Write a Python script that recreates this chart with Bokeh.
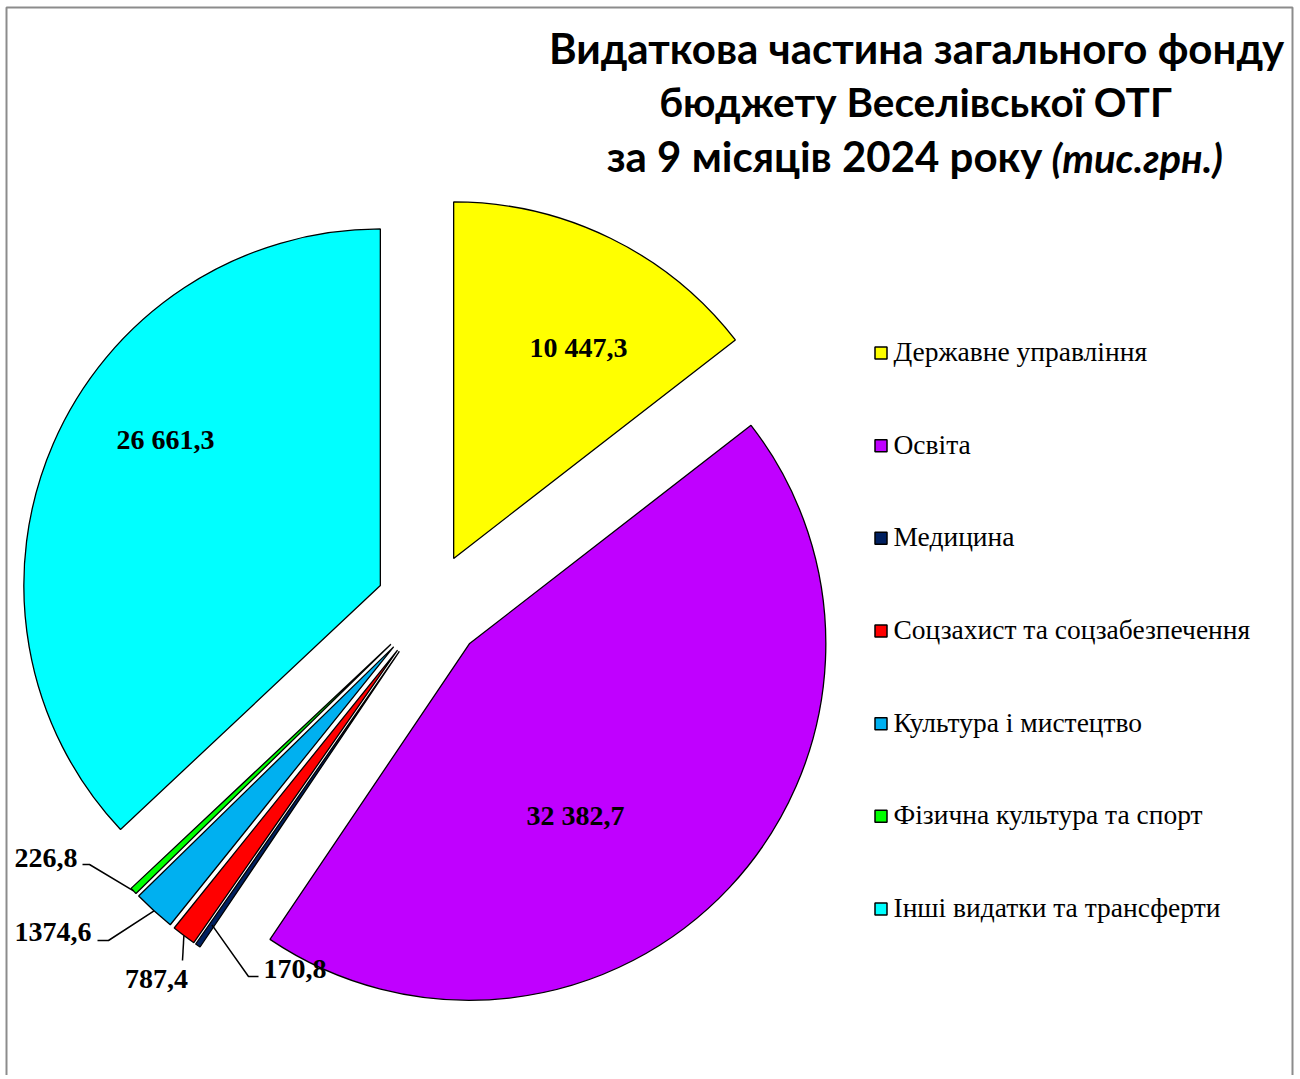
import math
from bokeh.plotting import figure
from bokeh.models import Range1d
from bokeh.embed import file_html
from bokeh.resources import INLINE
from bokeh.core.properties import value

# ---------------- data ----------------
categories = [
    "Державне управління",
    "Освіта",
    "Медицина",
    "Соцзахист та соцзабезпечення",
    "Культура і мистецтво",
    "Фізична культура та спорт",
    "Інші видатки та трансферти",
]
values = [10447.3, 32382.7, 170.8, 787.4, 1374.6, 226.8, 26661.3]
value_labels = ["10 447,3", "32 382,7", "170,8", "787,4", "1374,6", "226,8", "26 661,3"]
colors = ["#FFFF00", "#C000FF", "#002060", "#FF0000", "#00B0F0", "#00FF00", "#00FFFF"]
title_lines = ["Видаткова частина загального фонду", "бюджету Веселівської ОТГ", "за 9 місяців 2024 року"]
title_unit = "(тис.грн.)"

# ---------------- layout / style ----------------
W, H = 1296, 1075
def fy(sy):
    # screen y (page pixels, figure at top-left) -> data y
    return H - sy

CX, CY = 429.4, 606.4      # pie centre (page px)
R = 356.5                  # radius
EXPLODE = 54.0             # explosion distance
SERIF = value("Liberation Serif")

p = figure(width=W, height=H, output_backend="svg", toolbar_location=None,
           x_range=Range1d(0, W), y_range=Range1d(0, H),
           x_axis_type=None, y_axis_type=None, min_border=0)
p.grid.visible = False
p.outline_line_color = None
p.background_fill_color = "white"
p.border_fill_color = "white"

# chart frame
p.quad(left=6, right=1292, top=fy(7), bottom=fy(1120), fill_alpha=0,
       line_color="#8C8C8C", line_width=2)

total = sum(values)
cum = 0.0
geo = []
for v, c in zip(values, colors):
    t1 = cum / total * 360.0
    cum += v
    t2 = cum / total * 360.0
    mid = (t1 + t2) / 2
    ax = CX + EXPLODE * math.sin(math.radians(mid))
    ay = CY - EXPLODE * math.cos(math.radians(mid))
    geo.append((t1, t2, mid, ax, ay))
    p.wedge(x=ax, y=fy(ay), radius=R,
            start_angle=math.radians(90 - t1), end_angle=math.radians(90 - t2),
            direction="clock", fill_color=c, line_color="black", line_width=1.3)

# labels inside the big slices: (angle offset deg, distance from apex)
inside = {0: (4.7, 244), 1: (15.4, 203), 6: (10.6, 259)}
for i, (dth, dist) in inside.items():
    t1, t2, mid, ax, ay = geo[i]
    th = math.radians(mid + dth)
    lx = ax + dist * math.sin(th)
    ly = ay - dist * math.cos(th)
    p.text(x=lx, y=fy(ly - 1), text=[value_labels[i]], text_font=SERIF,
           text_font_style="bold", text_font_size="28px", text_align="center",
           text_baseline="middle", text_color="black")

# small slices with leader lines: (radius factor, elbow, end, label centre, align)
outside = {
    5: (1.0, (89, 864), (82, 864), (77, 857), "right"),
    4: (1.0, (108, 940), (97, 940), (91, 931), "right"),
    3: (1.0, (182, 960), (182, 960), (156, 978), "center"),
    2: (0.93, (248, 976), (258, 976), (263, 968), "left"),
}
for i, (rf, elb, end, lab, al) in outside.items():
    t1, t2, mid, ax, ay = geo[i]
    sx = ax + R * rf * math.sin(math.radians(mid))
    sy = ay - R * rf * math.cos(math.radians(mid))
    xs = [sx, elb[0], end[0]]
    ys = [fy(sy), fy(elb[1]), fy(end[1])]
    p.line(x=xs, y=ys, line_color="black", line_width=1.5)

for i, (rf, elb, end, lab, al) in outside.items():
    p.text(x=lab[0], y=fy(lab[1]), text=[value_labels[i]], text_font=SERIF,
           text_font_style="bold", text_font_size="28px", text_align=al,
           text_baseline="middle", text_color="black")

# legend
leg_y = [352.5 + k * 92.67 for k in range(len(categories))]
p.rect(x=[880.5] * len(categories), y=[fy(v) for v in leg_y], width=12, height=12,
       fill_color=colors, line_color="black", line_width=1.5)
p.text(x=[893] * len(categories), y=[fy(v - 1.5) for v in leg_y], text=categories,
       text_font=SERIF, text_font_size="27.5px",
       text_baseline="middle", text_align="left", text_color="black")

# title
p.text(x=[916], y=[fy(47.5)], text=title_lines[:1], text_font=value("Lato"),
       text_font_style="bold", text_font_size="42px", text_align="center",
       text_baseline="middle", text_color="black")
p.text(x=[915], y=[fy(101)], text=title_lines[1:2], text_font=value("Lato"),
       text_font_style="bold", text_font_size="40.5px", text_align="center",
       text_baseline="middle", text_color="black")
p.text(x=[1042], y=[fy(155)], text=[title_lines[2]], text_font=value("Lato"),
       text_font_style="bold", text_font_size="42px", text_align="right",
       text_baseline="middle", text_color="black")
p.text(x=[1051], y=[fy(157)], text=[title_unit], text_font=value("Lato"),
       text_font_style="bold italic", text_font_size="40px", text_align="left",
       text_baseline="middle", text_color="black")

open("out.html", "w").write(file_html(p, INLINE))
